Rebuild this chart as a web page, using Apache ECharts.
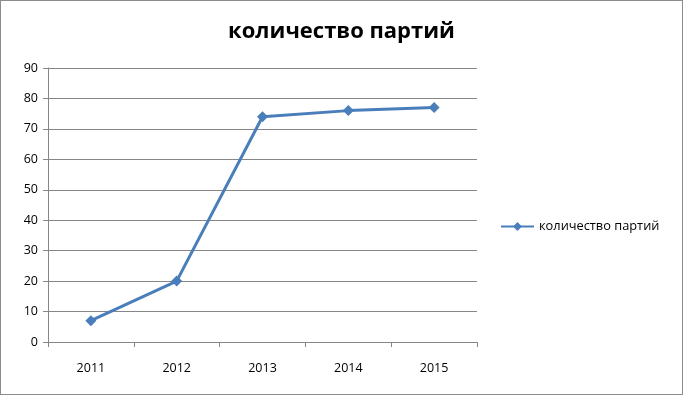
<!DOCTYPE html>
<html><head><meta charset="utf-8">
<script src="https://cdn.jsdelivr.net/npm/echarts@6/dist/echarts.min.js"></script>
<style>html,body{margin:0;padding:0;background:#fff}#c{width:681px;height:393px;border:1px solid #8c8c8c}</style>
</head><body><div id="c"></div>
<script>
const categories = ['2011','2012','2013','2014','2015'];
const values = [7, 20, 74, 76, 77];
const seriesName = 'количество партий';
const chart = echarts.init(document.getElementById('c'));
chart.setOption({
  animation:false,
  title:{text:seriesName,left:'center',top:20,textStyle:{fontFamily:'Open Sans',fontWeight:'bold',fontSize:22,color:'#000'},
    padding:0},
  legend:{left:494,top:214,orient:'vertical',itemWidth:33,itemHeight:11,itemGap:6,
    textStyle:{fontFamily:'Open Sans',fontSize:12.8,color:'#000'},data:[seriesName]},
  grid:{left:47,right:205,top:67,bottom:52,containLabel:false},
  xAxis:{type:'category',data:categories,boundaryGap:true,
    axisLine:{lineStyle:{color:'#868686'}},
    axisTick:{show:true,length:5,lineStyle:{color:'#868686'}},
    axisLabel:{color:'#000',fontFamily:'Open Sans',fontSize:12.5,margin:20}},
  yAxis:{type:'value',min:0,max:90,interval:10,
    axisLine:{show:true,lineStyle:{color:'#868686'}},
    axisTick:{show:true,length:5,lineStyle:{color:'#868686'}},
    splitLine:{lineStyle:{color:'#868686'}},
    axisLabel:{color:'#000',fontFamily:'Open Sans',fontSize:12.5,margin:10}},
  series:[{name:seriesName,type:'line',data:values,symbol:'diamond',symbolSize:11,
    lineStyle:{color:'#4a7ebb',width:3},itemStyle:{color:'#4a7ebb'}}]
});
</script></body></html>
